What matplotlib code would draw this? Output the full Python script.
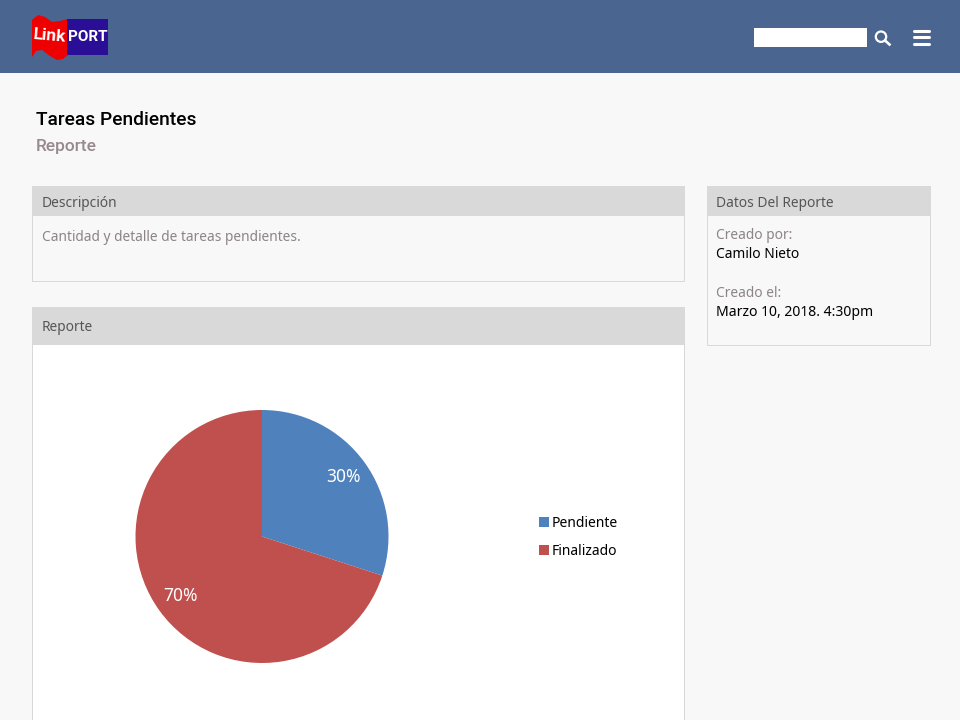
import matplotlib
matplotlib.use('Agg')
import matplotlib.pyplot as plt
from matplotlib.patches import Rectangle, Circle, Polygon
from matplotlib.lines import Line2D

# chart data
categories = ['Pendiente', 'Finalizado']
values = [30, 70]
colors = ['#4f81bd', '#c0504d']

BODY = ['Noto Sans', 'DejaVu Sans']
NARROW = ['Roboto', 'DejaVu Sans']
HEADER = '#4a6590'
BAND = '#d9d9d9'
PAGE = '#f8f8f8'
EDGE = '#d8d8d8'
GREY = '#8c8488'

fig = plt.figure(figsize=(9.6, 7.2), dpi=100, facecolor=PAGE)

# page layer, in pixels from the top left corner
page = fig.add_axes([0, 0, 1, 1])
page.set_xlim(0, 960)
page.set_ylim(720, 0)
page.axis('off')


def box(x0, y0, x1, y1, face, edge='none', lw=0.72):
    page.add_patch(Rectangle((x0, y0), x1 - x0, y1 - y0, facecolor=face, edgecolor=edge, linewidth=lw))


def label(x, y, text, color='#000000', size=9.9, family=BODY, **kw):
    page.text(x, y, text, color=color, fontsize=size, family=family, va='center', **kw)


# header bar
box(0, 0, 960, 73, HEADER)

# logo
flag = [(32, 20), (38, 15), (45, 17), (52, 22), (60, 21), (68, 19), (68, 55),
        (63, 59), (57, 60), (50, 56), (42, 50), (36, 51), (32, 57)]
page.add_patch(Polygon(flag, closed=True, facecolor='#ee0000', edgecolor='none'))
box(67, 19, 108, 55, '#2a0f96')
page.text(49.5, 36, 'Link', color='white', fontsize=12.5, family=NARROW, fontweight='bold',
          ha='center', va='center', rotation=-5)
page.text(87.5, 37, 'PORT', color='white', fontsize=11, family=NARROW, fontweight='bold',
          ha='center', va='center')

# search box and icons
box(754, 28, 867, 47, 'white')
page.add_patch(Circle((881, 36.7), 5.2, facecolor='none', edgecolor='white', linewidth=1.6))
page.add_line(Line2D([885, 889.5], [40.5, 44.5], color='white', linewidth=1.9))
for bar_y in (30.7, 37.3, 44):
    page.add_line(Line2D([913.5, 928.5], [bar_y, bar_y], color='white', linewidth=2.2, solid_capstyle='round'))

# page title
label(36, 120, 'Tareas Pendientes', size=13.8, family=NARROW, fontweight='medium')
label(36, 147, 'Reporte', color='#98898f', size=12.5, family=NARROW, fontweight='medium')

# description panel
box(32, 186, 684, 281, PAGE, EDGE)
box(32, 186, 685, 216, BAND)
label(42, 203.4, 'Descripción', color='#555555')
label(42, 237.4, 'Cantidad y detalle de tareas pendientes.', color=GREY)

# report data panel
box(707, 186, 930, 345, PAGE, EDGE)
box(707, 186, 931, 216, BAND)
label(716, 203.4, 'Datos Del Reporte', color='#555555')
label(716, 235.4, 'Creado por:', color=GREY)
label(716, 254, 'Camilo Nieto')
label(716, 293.4, 'Creado el:', color=GREY)
label(716, 313, 'Marzo 10, 2018. 4:30pm', size=10.1)

# report panel
box(32, 307, 684, 730, 'white', EDGE)
box(32, 307, 685, 345, BAND)
label(42, 327.4, 'Reporte', color='#555555')

# pie, radius about 126.5 px centred on (262, 536.5)
pie_ax = fig.add_axes([135.5 / 960, (720 - 663) / 720, 253 / 960, 253 / 720])
wedges, _, autotexts = pie_ax.pie(values, colors=colors, startangle=90, counterclock=False,
                                  radius=1, autopct='%d%%', pctdistance=0.8,
                                  textprops={'color': 'white', 'fontsize': 12.5, 'family': BODY})
pie_ax.set_xlim(-1, 1)
pie_ax.set_ylim(-1, 1)

leg = fig.legend(wedges, categories, loc='upper left', bbox_to_anchor=(536 / 960, (720 - 513) / 720),
                 frameon=False, handlelength=0.7, handleheight=0.7, handletextpad=0.2,
                 labelspacing=0.95, borderpad=0.2, borderaxespad=0, prop={'family': BODY, 'size': 10})

plt.savefig('out.png', dpi=100, facecolor=PAGE)
